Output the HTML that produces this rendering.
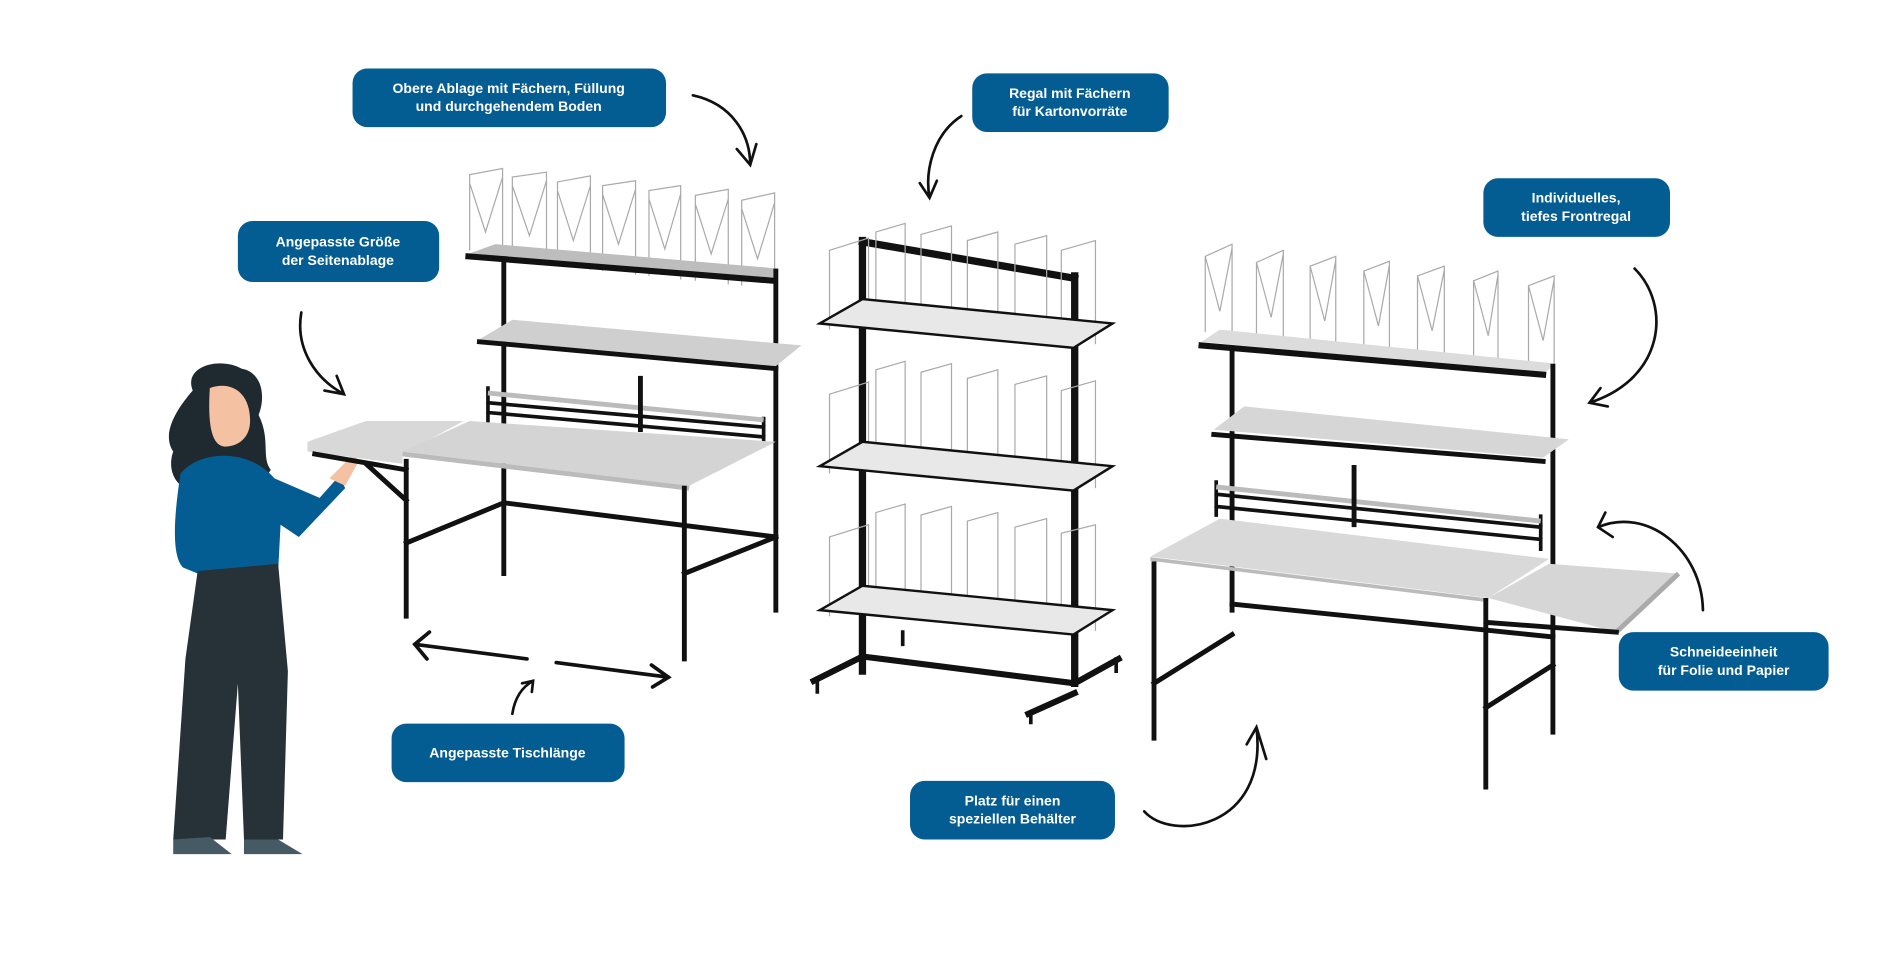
<!DOCTYPE html>
<html><head><meta charset="utf-8"><style>
html,body{margin:0;padding:0;background:#fff;width:1903px;height:958px;overflow:hidden}
svg{display:block}
.b{fill:#045d92}
.t{font-family:"Liberation Sans",sans-serif;font-weight:bold;font-size:11.5px;fill:#fff;text-anchor:middle}
.a{fill:none;stroke:#111;stroke-width:2.2;stroke-linecap:round}
.k{stroke:#111;fill:none;stroke-linecap:square}
.w{stroke:#aaa;stroke-width:1;fill:none}
</style></head><body>
<svg width="1903" height="958" viewBox="0 0 1560 785" xmlns="http://www.w3.org/2000/svg">
<!-- boxes -->
<rect class="b" x="289" y="56" width="257" height="48" rx="12"/>
<text class="t" x="417" y="76">Obere Ablage mit Fächern, Füllung</text><text class="t" x="417" y="91">und durchgehendem Boden</text>
<rect class="b" x="797" y="60" width="161" height="48" rx="12"/>
<text class="t" x="877" y="80">Regal mit Fächern</text><text class="t" x="877" y="95">für Kartonvorräte</text>
<rect class="b" x="195" y="181" width="165" height="50" rx="12"/>
<text class="t" x="277" y="202">Angepasste Größe</text><text class="t" x="277" y="217">der Seitenablage</text>
<rect class="b" x="1216" y="146" width="153" height="48" rx="12"/>
<text class="t" x="1292" y="166">Individuelles,</text><text class="t" x="1292" y="181">tiefes Frontregal</text>
<rect class="b" x="1327" y="518" width="172" height="48" rx="12"/>
<text class="t" x="1413" y="538">Schneideeinheit</text><text class="t" x="1413" y="553">für Folie und Papier</text>
<rect class="b" x="321" y="593" width="191" height="48" rx="12"/>
<text class="t" x="416" y="621">Angepasste Tischlänge</text>
<rect class="b" x="746" y="640" width="168" height="48" rx="12"/>
<text class="t" x="830" y="660">Platz für einen</text><text class="t" x="830" y="675">speziellen Behälter</text>

<!-- arrows -->
<path class="a" d="M568 78 C600 85 615 110 615 135 M604 122 L615 135 L620 118"/>
<path class="a" d="M788 95 C765 110 758 140 762 162 M754 150 L762 162 L768 148"/>
<path class="a" d="M247 256 C242 285 258 310 282 323 M266 320 L282 323 L276 308"/>
<path class="a" style="stroke-width:3" d="M432 540 L340 528 M352 518 L340 528 L350 540"/>
<path class="a" style="stroke-width:3" d="M456 543 L548 555 M534 545 L548 555 L535 563"/>
<path class="a" d="M420 585 C422 572 428 563 437 558 M428 560 L437 558 L436 567"/>
<path class="a" d="M1340 220 C1370 250 1365 310 1303 330 M1312 318 L1303 330 L1318 333"/>
<path class="a" d="M1396 500 C1395 450 1350 415 1310 432 M1316 420 L1310 432 L1322 440"/>
<path class="a" d="M938 665 C960 690 1040 680 1030 596 M1022 610 L1030 596 L1038 622"/>

<!-- woman -->
<g>
<path d="M158 320 C150 300 180 292 198 302 C215 305 218 325 212 340 C222 360 214 375 222 385 C212 400 190 405 170 400 C150 408 135 390 142 370 C132 355 145 335 158 320Z" fill="#1f2a30"/>
<path d="M172 318 C188 312 205 320 205 345 C205 358 196 366 184 366 C174 365 170 350 172 318Z" fill="#f4c1a3"/>
<path d="M148 388 C165 368 205 368 225 392 L262 408 L278 390 L283 400 L245 440 L230 430 L228 468 L162 470 L150 465 C140 455 143 420 148 388Z" fill="#045d92"/>
<path d="M270 392 L290 372 L294 378 L283 398Z" fill="#f4c1a3"/>
<path d="M162 468 L228 462 L236 550 L232 688 L200 688 L195 560 L185 688 L142 688 L152 540Z" fill="#263238"/>
<path d="M142 688 L172 686 L190 700 L142 700Z M200 688 L228 688 L248 700 L200 700Z" fill="#455a64"/>
</g>

<!-- left desk -->
<g>
<g class="w">
<path d="M385 205 L385 143 L412 138 L412 212 M385 150 L398 190 L412 145"/>
<path d="M420 213 L420 145 L448 141 L448 217 M420 152 L434 193 L448 148"/>
<path d="M457 218 L457 149 L484 144 L484 221 M457 156 L470 197 L484 152"/>
<path d="M494 222 L494 152 L521 148 L521 225 M494 159 L507 200 L521 155"/>
<path d="M532 226 L532 156 L558 152 L558 229 M532 163 L545 204 L558 159"/>
<path d="M570 230 L570 160 L597 155 L597 233 M570 167 L583 208 L597 163"/>
<path d="M608 234 L608 164 L635 158 L635 236 M608 171 L621 212 L635 166"/>
</g>
<polygon points="384,208 406,200 638,220 634,228" fill="#bdbdbd"/>
<path class="k" stroke-width="5" d="M384,210 L634,230"/>
<path class="k" stroke-width="4" d="M413 212 L413 470 M636 222 L636 500"/>
<polygon points="393,278 420,262 657,283 636,300" fill="#cfcfcf"/>
<path class="k" stroke-width="4" d="M393 280 L636 302"/>
<path class="k" stroke-width="3" d="M400 318 L400 345 M626 343 L626 365 M400 330 L626 350 M400 338 L626 358"/>
<path stroke="#bbb" stroke-width="4" d="M400 322 L626 344"/>
<path class="k" stroke-width="4" d="M525 310 L525 352"/>
<polygon points="252,362 300,345 380,345 330,372 330,380 252,370" fill="#d8d8d8"/>
<polygon points="330,370 385,345 636,362 565,398" fill="#d4d4d4"/>
<path stroke="#bbb" stroke-width="4" d="M330 372 L565 400"/>
<path class="k" stroke-width="4" d="M333 378 L333 505 M561 400 L561 540 M333 445 L413 412 M413 412 L636 440 M561 470 L636 440 M300 380 L333 410 M258 372 L333 385"/>
</g>

<!-- middle rack -->
<g>
<path class="k" stroke-width="6" d="M707 197 L707 550 M881 226 L881 560 M707 198 L881 228"/>
<g class="w">
<path d="M680 270 V205 L712 195 V258 M718 255 V190 L742 183 V262 M755 260 V192 L780 185 V268 M793 265 V197 L818 190 V272 M832 270 V200 L858 193 V278 M870 275 V205 L898 197 V282"/>
<path d="M680 388 V323 L712 313 V376 M718 373 V303 L742 296 V380 M755 378 V305 L780 298 V386 M793 383 V310 L818 303 V390 M832 388 V315 L858 308 V396 M870 393 V320 L898 312 V400"/>
<path d="M680 505 V440 L712 430 V493 M718 490 V420 L742 413 V497 M755 495 V422 L780 415 V503 M793 500 V427 L818 420 V507 M832 505 V432 L858 425 V513 M870 510 V437 L898 430 V517"/>
</g>
<g fill="#e8e8e8" stroke="#111" stroke-width="2">
<polygon points="672,265 707,245 912,265 880,285"/>
<polygon points="672,382 707,362 912,382 880,402"/>
<polygon points="672,500 707,480 912,500 880,520"/>
</g>
<path class="k" stroke-width="5" d="M667 558 L707 538 L881 560 L917 540 M843 585 L881 568"/>
<path class="k" stroke-width="3" d="M740 518 L740 528 M670 560 L670 567 M845 585 L845 592 M915 540 L915 550"/>
</g>

<!-- right desk -->
<g>
<g class="w">
<path d="M988 272 V210 L1010 200 V275 M988 210 L1000 255 L1010 203"/>
<path d="M1030 276 V215 L1052 205 V279 M1030 215 L1042 260 L1052 208"/>
<path d="M1074 280 V218 L1095 210 V283 M1074 218 L1086 263 L1095 213"/>
<path d="M1118 284 V222 L1139 214 V287 M1118 222 L1130 267 L1139 217"/>
<path d="M1162 288 V226 L1184 218 V291 M1162 226 L1174 271 L1184 221"/>
<path d="M1208 292 V230 L1228 222 V295 M1208 230 L1220 275 L1228 225"/>
<path d="M1253 296 V234 L1274 226 V299 M1253 234 L1265 279 L1274 229"/>
</g>
<polygon points="985,280 1000,270 1276,298 1265,306" fill="#dcdcdc"/>
<path class="k" stroke-width="5" d="M985 283 L1265 307"/>
<path class="k" stroke-width="4" d="M1010 285 L1010 500 M1273 300 L1273 600"/>
<polygon points="995,352 1020,333 1286,360 1265,375" fill="#d6d6d6"/>
<path class="k" stroke-width="4" d="M995 356 L1265 378"/>
<path class="k" stroke-width="3" d="M997 395 L997 422 M1263 423 L1263 450 M997 405 L1263 432 M997 415 L1263 442"/>
<path stroke="#bbb" stroke-width="4" d="M997 399 L1263 427"/>
<path class="k" stroke-width="4" d="M1110 383 L1110 430"/>
<polygon points="943,456 1000,425 1270,458 1220,490" fill="#d9d9d9"/>
<path stroke="#bbb" stroke-width="3" d="M943 458 L1220 492"/>
<polygon points="1220,490 1270,462 1375,470 1325,518" fill="#d6d6d6"/>
<path stroke="#aaa" stroke-width="4" d="M1325 518 L1376 470"/>
<path class="k" stroke-width="4" d="M946 462 L946 605 M1218 492 L1218 645 M946 560 L1010 520 M1010 495 L1273 522 M1218 580 L1273 545 M1218 510 L1325 518"/>
</g>
</svg>
</body></html>
